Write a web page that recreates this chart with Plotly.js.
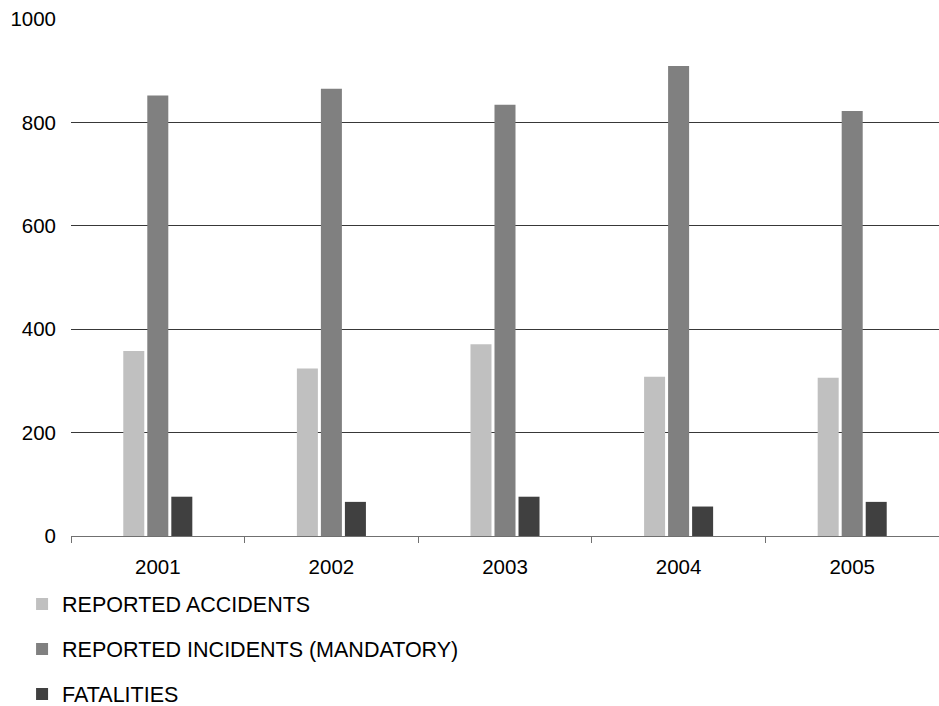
<!DOCTYPE html>
<html>
<head>
<meta charset="utf-8">
<script src="https://cdn.plot.ly/plotly-3.0.1.min.js"></script>
<style>html,body{margin:0;padding:0;background:#fff;}#chart{width:939px;height:706px;}</style>
</head>
<body>
<div id="chart"></div>
<script>
var years = ['2001', '2002', '2003', '2004', '2005'];
var reportedAccidents = [358, 324, 371, 308, 306];
var reportedIncidents = [852, 865, 834, 909, 822];
var fatalities = [76, 66, 76, 57, 66];
var seriesNames = ['REPORTED ACCIDENTS', 'REPORTED INCIDENTS (MANDATORY)', 'FATALITIES'];
var yTicks = [0, 200, 400, 600, 800, 1000];

var colors = ['#c0c0c0', '#808080', '#404040'];
var series = [reportedAccidents, reportedIncidents, fatalities];
var traces = series.map(function (vals, i) {
  return {
    type: 'bar',
    x: years,
    y: vals,
    name: seriesNames[i],
    legendgroup: 'g' + i,
    marker: {color: colors[i], line: {width: 0}},
    hoverinfo: 'none'
  };
});

var layout = {
  width: 939,
  height: 706,
  margin: {l: 71, r: 0, t: 19, b: 170, pad: 0, autoexpand: false},
  paper_bgcolor: '#ffffff',
  plot_bgcolor: '#ffffff',
  font: {family: 'Liberation Sans, Arial, sans-serif', size: 20, color: '#000000'},
  barmode: 'group',
  bargap: 0.585,
  bargroupgap: 0.125,
  showlegend: true,
  legend: {
    orientation: 'v',
    xref: 'container',
    yref: 'container',
    x: 0.0235,
    xanchor: 'left',
    y: 0.1735,
    yanchor: 'top',
    font: {size: 21.5, color: '#000000'},
    tracegroupgap: 14,
    bgcolor: 'rgba(0,0,0,0)',
    borderwidth: 0
  },
  xaxis: {
    type: 'category',
    showgrid: false,
    showline: true,
    linecolor: '#707070',
    linewidth: 1,
    ticks: 'outside',
    tickson: 'boundaries',
    ticklen: 6,
    tickcolor: '#707070',
    tickwidth: 1,
    ticklabelstandoff: 12,
    tickfont: {size: 20.5, color: '#000000'},
    zeroline: false
  },
  yaxis: {
    range: [0, 1000],
    tickvals: yTicks,
    ticktext: yTicks.map(String),
    showgrid: true,
    gridcolor: '#383838',
    gridwidth: 1,
    zeroline: false,
    showline: false,
    ticks: '',
    ticklabelstandoff: 14,
    tickfont: {size: 20.5, color: '#000000'}
  }
};

Plotly.newPlot('chart', traces, layout, {displayModeBar: false, staticPlot: true});
</script>
</body>
</html>
